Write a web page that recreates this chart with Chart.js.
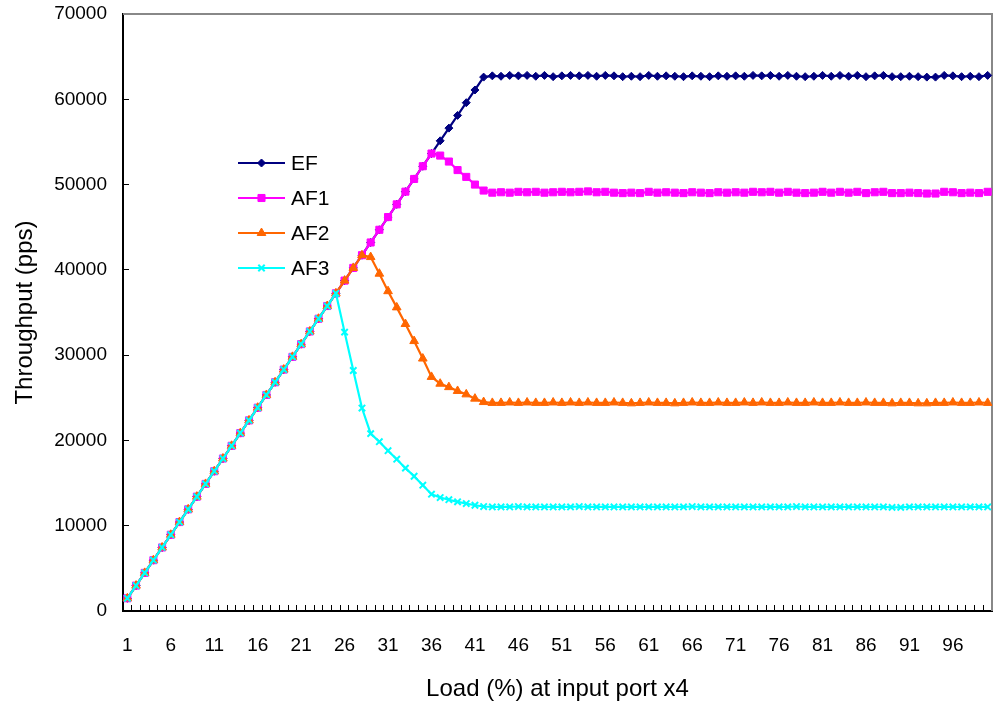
<!DOCTYPE html>
<html>
<head>
<meta charset="utf-8">
<script src="https://cdn.jsdelivr.net/npm/chart.js@4/dist/chart.umd.min.js"></script>
<style>
  html, body { margin: 0; padding: 0; background: #fff; overflow: hidden; }
  #wrap { width: 993px; height: 713px; }
</style>
</head>
<body>
<div id="wrap"><canvas id="chart"></canvas></div>
<script>
// Load steps along the x axis
const categories = [
  '1', '2', '3', '4', '5', '6', '7', '8', '9', '10',
  '11', '12', '13', '14', '15', '16', '17', '18', '19', '20',
  '21', '22', '23', '24', '25', '26', '27', '28', '29', '30',
  '31', '32', '33', '34', '35', '36', '37', '38', '39', '40',
  '41', '42', '43', '44', '45', '46', '47', '48', '49', '50',
  '51', '52', '53', '54', '55', '56', '57', '58', '59', '60',
  '61', '62', '63', '64', '65', '66', '67', '68', '69', '70',
  '71', '72', '73', '74', '75', '76', '77', '78', '79', '80',
  '81', '82', '83', '84', '85', '86', '87', '88', '89', '90',
  '91', '92', '93', '94', '95', '96', '97', '98', '99', '100',
];

// Only these categories get a printed label
const xTickLabels = ['1', '6', '11', '16', '21', '26', '31', '36', '41', '46',
  '51', '56', '61', '66', '71', '76', '81', '86', '91', '96'];

const efValues = [
  1490, 2980, 4470, 5960, 7450, 8940, 10430, 11920, 13410, 14900,
  16390, 17880, 19370, 20860, 22350, 23840, 25330, 26820, 28310, 29800,
  31290, 32780, 34270, 35760, 37250, 38740, 40230, 41720, 43210, 44700,
  46190, 47680, 49170, 50660, 52150, 53640, 55130, 56620, 58110, 59600,
  61090, 62600, 62750, 62700, 62800, 62750, 62800, 62700, 62800, 62650,
  62750, 62800, 62750, 62800, 62700, 62800, 62750, 62650, 62700, 62650,
  62800, 62700, 62750, 62700, 62650, 62750, 62700, 62650, 62750, 62700,
  62750, 62700, 62800, 62750, 62800, 62700, 62800, 62700, 62650, 62700,
  62800, 62700, 62800, 62700, 62800, 62650, 62750, 62800, 62650, 62650,
  62700, 62650, 62600, 62600, 62800, 62750, 62650, 62700, 62650, 62800,
];

const af1Values = [
  1490, 2980, 4470, 5960, 7450, 8940, 10430, 11920, 13410, 14900,
  16390, 17880, 19370, 20860, 22350, 23840, 25330, 26820, 28310, 29800,
  31290, 32780, 34270, 35760, 37250, 38740, 40230, 41720, 43210, 44700,
  46190, 47680, 49170, 50660, 52150, 53640, 53400, 52700, 51700, 50900,
  50000, 49300, 49050, 49100, 49050, 49150, 49100, 49150, 49050, 49100,
  49150, 49100, 49150, 49200, 49100, 49150, 49050, 49000, 49050, 49000,
  49150, 49050, 49100, 49050, 49000, 49100, 49050, 49000, 49100, 49050,
  49100, 49050, 49150, 49100, 49150, 49050, 49150, 49050, 49000, 49050,
  49150, 49050, 49150, 49050, 49150, 49000, 49100, 49150, 49000, 49000,
  49050, 49000, 48950, 48950, 49150, 49100, 49000, 49050, 49000, 49150,
];

const af2Values = [
  1490, 2980, 4470, 5960, 7450, 8940, 10430, 11920, 13410, 14900,
  16390, 17880, 19370, 20860, 22350, 23840, 25330, 26820, 28310, 29800,
  31290, 32780, 34270, 35760, 37250, 38740, 40230, 41720, 41500, 39550,
  37500, 35600, 33650, 31650, 29600, 27450, 26650, 26250, 25800, 25400,
  24900, 24500, 24400, 24400, 24450, 24400, 24450, 24400, 24400, 24450,
  24400, 24450, 24400, 24450, 24400, 24400, 24450, 24400, 24350, 24400,
  24450, 24400, 24400, 24350, 24400, 24450, 24400, 24400, 24450, 24400,
  24400, 24450, 24400, 24450, 24400, 24400, 24450, 24400, 24400, 24450,
  24400, 24400, 24450, 24400, 24400, 24450, 24400, 24400, 24350, 24400,
  24400, 24350, 24350, 24400, 24400, 24450, 24400, 24400, 24450, 24400,
];

const af3Values = [
  1490, 2980, 4470, 5960, 7450, 8940, 10430, 11920, 13410, 14900,
  16390, 17880, 19370, 20860, 22350, 23840, 25330, 26820, 28310, 29800,
  31290, 32780, 34270, 35760, 37250, 32700, 28200, 23800, 20800, 19850,
  18800, 17800, 16750, 15800, 14750, 13700, 13300, 13050, 12800, 12600,
  12400, 12250, 12200, 12200, 12200, 12250, 12200, 12200, 12200, 12200,
  12200, 12200, 12250, 12200, 12200, 12200, 12200, 12200, 12200, 12200,
  12200, 12200, 12200, 12200, 12200, 12250, 12200, 12200, 12200, 12200,
  12200, 12200, 12200, 12200, 12200, 12200, 12200, 12250, 12200, 12200,
  12200, 12200, 12200, 12200, 12200, 12200, 12200, 12200, 12150, 12150,
  12200, 12200, 12200, 12200, 12200, 12200, 12200, 12200, 12200, 12200,
];

const yTicks = [0, 10000, 20000, 30000, 40000, 50000, 60000, 70000];

const xTitle = 'Load (%) at input port x4';
const yTitle = 'Throughput (pps)';
const legendOrder = ['EF', 'AF1', 'AF2', 'AF3'];

Chart.defaults.font.family = "'Liberation Sans', Arial, sans-serif";
Chart.defaults.color = '#000';

// Gray frame on the top and right of the plot area
const plotFrame = {
  id: 'plotFrame',
  beforeDatasetsDraw(chart) {
    const { ctx, chartArea } = chart;
    ctx.save();
    ctx.strokeStyle = '#888';
    ctx.lineWidth = 2;
    ctx.beginPath();
    ctx.moveTo(chartArea.left, chartArea.top);
    ctx.lineTo(chartArea.right, chartArea.top);
    ctx.lineTo(chartArea.right, chartArea.bottom);
    ctx.stroke();
    ctx.restore();
  },
};

// Legend sits inside the plot, to the left of the peaks
const insideLegend = {
  id: 'insideLegend',
  afterDatasetsDraw(chart) {
    const { ctx } = chart;
    ctx.save();
    legendOrder.forEach((name, i) => {
      const ds = chart.data.datasets.find((d) => d.label === name);
      const y = 163 + i * 35;
      ctx.strokeStyle = ds.borderColor;
      ctx.lineWidth = ds.borderWidth;
      ctx.beginPath();
      ctx.moveTo(238, y);
      ctx.lineTo(285, y);
      ctx.stroke();
      ctx.fillStyle = ds.pointBackgroundColor;
      ctx.strokeStyle = ds.pointBorderColor;
      ctx.lineWidth = ds.pointBorderWidth;
      Chart.helpers.drawPoint(ctx, {
        pointStyle: ds.pointStyle,
        radius: ds.pointRadius,
        borderWidth: ds.pointBorderWidth,
        rotation: 0,
      }, 261.5, y);
      ctx.fillStyle = '#000';
      ctx.font = "21px 'Liberation Sans', Arial, sans-serif";
      ctx.textAlign = 'left';
      ctx.textBaseline = 'middle';
      ctx.fillText(name, 291, y + 1);
    });
    ctx.restore();
  },
};

// Keep the plot box where the reference has it: no extra label overhang padding
const noOverhang = (scale) => {
  scale.paddingTop = 0;
  scale.paddingBottom = 0;
  scale.paddingLeft = 0;
  scale.paddingRight = 0;
};

const makeSeries = (label, data, color, pointStyle, radius, borderWidth, order) => ({
  label,
  data,
  borderColor: color,
  backgroundColor: color,
  borderWidth: 2.2,
  pointStyle,
  pointRadius: radius,
  pointBackgroundColor: color,
  pointBorderColor: color,
  pointBorderWidth: borderWidth,
  pointHoverRadius: radius,
  tension: 0,
  fill: false,
  order,
});

new Chart(document.getElementById('chart'), {
  type: 'line',
  data: {
    labels: categories,
    datasets: [
      makeSeries('EF', efValues, '#000080', 'rectRot', 4, 1, 4),
      makeSeries('AF1', af1Values, '#FF00FF', 'rect', 5, 1, 3),
      makeSeries('AF2', af2Values, '#FF6600', 'triangle', 5, 1, 2),
      makeSeries('AF3', af3Values, '#00FFFF', 'crossRot', 4.5, 2, 1),
    ],
  },
  options: {
    responsive: true,
    maintainAspectRatio: false,
    animation: false,
    layout: { autoPadding: false, padding: { top: 14, right: 1, left: 0, bottom: 0 } },
    plugins: {
      legend: { display: false },
      tooltip: { enabled: false },
    },
    scales: {
      x: {
        type: 'category',
        offset: true,
        grid: { offset: true, drawOnChartArea: false, drawTicks: true, tickLength: -6, color: '#000', lineWidth: 1 },
        border: { color: '#000', width: 2 },
        ticks: {
          autoSkip: false,
          maxRotation: 0,
          minRotation: 0,
          padding: 29,
          font: { size: 19 },
          callback: function (value) {
            const lab = this.getLabelForValue(value);
            return xTickLabels.includes(lab) ? lab : '';
          },
        },
        title: { display: true, text: xTitle, font: { size: 24 }, padding: { top: 0, bottom: 9 } },
        afterFit(scale) { scale.height = 102; noOverhang(scale); },
      },
      y: {
        min: yTicks[0],
        max: yTicks[yTicks.length - 1],
        afterBuildTicks(scale) { scale.ticks = yTicks.map((v) => ({ value: v })); },
        ticks: { padding: 22, font: { size: 19 }, callback: (v) => String(v) },
        grid: { drawOnChartArea: false, drawTicks: true, tickLength: -6, color: '#000', lineWidth: 1 },
        border: { color: '#000', width: 2 },
        title: { display: true, text: yTitle, font: { size: 24 }, padding: { top: 11, bottom: 0 } },
        afterFit(scale) { scale.width = 123; noOverhang(scale); },
      },
    },
  },
  plugins: [plotFrame, insideLegend],
});
</script>
</body>
</html>
